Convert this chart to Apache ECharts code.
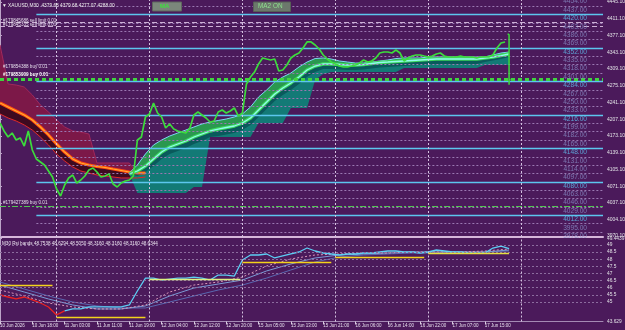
<!DOCTYPE html>
<html><head><meta charset="utf-8">
<script src="https://cdn.jsdelivr.net/npm/echarts@6/dist/echarts.min.js"></script>
<style>html,body{margin:0;padding:0;background:#4b1a5b;}#c{width:625px;height:330px;}</style>
</head><body><div id="c"></div>
<script>
// ---------- DATA ----------
const symbolName = 'XAUUSD,M30';
const lastBarOHLC = [4379.68, 4379.68, 4277.07, 4288.00]; // open high low close
const lastBarIndex = 252;
const priceStep = 2; // bars between close samples
const closes = [4199.5,4183.3,4171.1,4179.2,4165.0,4169.1,4152.8,4183.3,4144.7,4126.4,4120.3,4114.2,4102.1,4089.9,4065.5,4051.3,4073.7,4087.9,4093.9,4077.7,4083.8,4091.9,4104.1,4108.2,4100.0,4089.9,4091.9,4096.0,4075.7,4069.6,4077.7,4081.8,4083.8,4091.9,4165.0,4171.1,4211.7,4217.8,4240.1,4219.8,4211.7,4189.4,4197.5,4187.3,4183.3,4181.2,4179.2,4189.4,4215.8,4221.8,4215.8,4209.7,4201.5,4203.6,4221.8,4225.9,4219.8,4223.9,4230.0,4213.7,4219.8,4278.7,4292.9,4303.0,4319.3,4331.5,4329.4,4327.4,4329.4,4305.1,4307.1,4317.3,4331.5,4337.6,4341.6,4351.8,4364.0,4364.0,4357.9,4349.7,4337.6,4329.4,4323.3,4319.3,4315.2,4313.2,4313.2,4315.2,4317.3,4321.3,4327.4,4323.3,4325.4,4331.5,4341.6,4343.6,4343.6,4341.6,4347.7,4341.6,4325.4,4331.5,4335.5,4337.6,4337.6,4335.5,4333.5,4335.5,4339.6,4341.6,4335.5,4333.5,4333.5,4333.5,4335.5,4333.5,4333.5,4333.5,4331.5,4333.5,4333.5,4333.5,4337.6,4351.8,4362.0,4364.0];

const maStep = 4;
const bearStart = 0;
const bearMA       = [4240.1,4232.0,4223.9,4215.8,4205.6,4191.4,4175.2,4156.9,4140.6,4126.4,4118.3,4114.2,4111.2,4109.2,4106.1,4103.1,4100.0,4098.0,4098.0];
const bearBandLow  = [4217.8,4209.7,4203.6,4195.5,4185.3,4171.1,4154.9,4136.6,4122.4,4110.2,4102.1,4098.0,4094.0,4091.9,4089.9,4087.9,4087.9,4087.9,4089.9];
const bearCloudTop = [4357.9,4278.7,4276.6,4272.6,4256.4,4236.0,4221.8,4205.6,4191.4,4183.3,4181.2,4177.2,4118.3,4118.3,4118.3,4118.3,4118.3,4098.0,4098.0];

const bullStart = 64;
const bullUpper  = [4098.0,4114.3,4136.6,4154.9,4165.0,4173.1,4179.2,4185.3,4191.4,4197.5,4201.5,4204.6,4207.6,4211.7,4217.8,4232.0,4252.3,4266.5,4282.7,4292.9,4301.0,4313.2,4323.3,4330.4,4331.5,4329.4,4325.4,4323.3,4321.3,4321.3,4323.3,4325.4,4327.4,4330.4,4331.5,4331.5,4331.5,4333.5,4333.5,4333.5,4333.5,4333.5,4333.5,4333.5,4333.5,4337.6,4341.6,4343.6];
const bullMA     = [4096.0,4102.1,4112.2,4126.4,4140.6,4150.8,4156.9,4163.0,4171.1,4177.2,4183.3,4187.3,4190.4,4193.4,4199.5,4209.7,4225.9,4242.1,4258.4,4270.6,4280.7,4292.9,4307.1,4315.2,4319.3,4319.3,4318.3,4317.3,4317.3,4318.3,4320.3,4322.3,4323.3,4324.4,4325.4,4326.4,4327.4,4328.4,4329.4,4329.4,4329.4,4329.4,4329.4,4329.4,4331.5,4333.5,4336.5,4339.6];
const bullDark   = [4096.0,4091.9,4100.0,4112.2,4126.4,4136.6,4142.7,4148.8,4156.9,4163.0,4171.1,4173.1,4176.2,4179.2,4185.3,4195.5,4211.7,4227.9,4244.2,4256.4,4266.5,4278.7,4292.9,4303.0,4309.1,4309.1,4308.1,4307.1,4307.1,4308.1,4310.2,4312.2,4313.2,4314.2,4315.2,4316.2,4317.3,4318.3,4319.3,4319.3,4319.3,4319.3,4319.3,4319.3,4323.3,4326.4,4329.4,4333.5];
const bullBottom = [4096.0,4057.4,4057.4,4057.4,4057.4,4057.4,4057.4,4057.4,4069.6,4069.6,4171.1,4171.1,4171.1,4171.1,4171.1,4171.1,4199.5,4199.5,4199.5,4199.5,4230.0,4230.0,4230.0,4286.8,4299.0,4303.0,4303.0,4303.0,4303.0,4303.0,4303.0,4303.0,4303.0,4303.0,4311.2,4311.2,4311.2,4311.2,4311.2,4311.2,4311.2,4311.2,4311.2,4311.2,4317.3,4317.3,4317.3,4317.3];

const majorLevels = [4420,4352,4284,4216,4148,4080,4012];
const minorLevels = [4454,4437,4403,4386,4369,4335,4318,4301,4267,4250,4233,4199,4182,4165,4131,4114,4097,4063,4046,4029,3995,3978];
const levelStartBar = 18;

const orderIds    = ['#179845686','#179845335','#179854388','#179853909','#179427389'];
const orderTypes  = ['sell limit','sell limit','buy','buy','buy'];
const orderLots   = [0.01,0.01,0.01,0.01,0.01];
const orderPrices = [4404,4396,4288.5,4288,4031];

const priceTicks = [4445.1,4411.1,4377.1,4343.1,4309.1,4275.1,4241.1,4207.1,4173.1,4139.1,4105.1,4071.1,4037.1,4004.1,3970.1];

const timeBars   = [0,16,32,48,64,80,96,112,128,144,160,176,192,208,224,240];
const timeLabels = ['10 Jun 2026','10 Jun 18:00','11 Jun 03:00','11 Jun 11:00','11 Jun 19:00','12 Jun 04:00','12 Jun 12:00','12 Jun 20:00','15 Jun 05:00','15 Jun 13:00','15 Jun 21:00','16 Jun 06:00','16 Jun 14:00','16 Jun 22:00','17 Jun 07:00','17 Jun 15:00'];
const daySeparatorBars = [28,74,120,166,212,258];

// RSI sub-window
const rsiTitleValues = ['48.7538','48.6294','48.5050','48.3160','48.3160','48.3160','48.6344'];
const rsiStep = 4;
const rsiValues = [45.49,45.35,45.21,45.35,45.14,44.93,44.65,44.09,44.37,44.51,44.51,44.65,44.65,44.65,44.65,44.65,44.79,45.77,46.68,46.68,46.54,46.61,46.68,46.68,46.75,46.68,46.54,46.89,46.89,46.82,47.95,48.30,48.30,48.37,48.09,48.23,48.37,48.51,48.79,48.58,48.44,48.37,48.30,48.37,48.37,48.44,48.44,48.51,48.58,48.58,48.51,48.51,48.44,48.51,48.65,48.58,48.51,48.51,48.44,48.44,48.44,48.79,48.93,48.75];
const rsiBearishUntil = 8; // sample index where colour turns bullish
const rsiMaStep = 12;
const rsiFast   = [45.84,45.42,44.93,44.65,44.51,44.51,44.79,45.70,46.19,46.40,46.75,47.53,48.02,48.30,48.37,48.44,48.44,48.51,48.51,48.51,48.58,48.72];
const rsiMedium = [46.19,45.70,45.21,44.79,44.51,44.51,44.72,45.42,45.98,46.26,46.54,47.18,47.67,48.09,48.30,48.37,48.44,48.51,48.51,48.51,48.51,48.65];
const rsiSlow   = [46.40,45.91,45.42,45.00,44.72,44.58,44.58,45.00,45.42,45.84,46.19,46.68,47.25,47.81,48.16,48.30,48.37,48.44,48.44,48.51,48.51,48.58];
const bandLevels = [46.19,43.95,46.61,47.81,48.16,48.44];
const bandStarts = [0,28,74,120,166,212];
const bandEnds   = [26,72,119,164,210,252];
const rsiTicks    = [49.4439,49,48.5,48,47.5,47,46.5,46,45.5,45,43.629];
const rsiTickText = ['49.4439','49','48.5','48','47.5','47','46.5','46','45.5','45','43.629'];

// ---------- CHART ----------
const X_MAX = 298.5;
const P_MIN = 3968.1, P_MAX = 4449.2;
const R_MIN = 43.629, R_MAX = 49.4439;
const LEVEL_LABEL_BAR = 284.7;
const FONT = 'Liberation Sans, Arial, sans-serif';

const seq = (arr, start, step) => arr.map((v, i) => [start + i * step, v]);

function band(upper, lower, start, step, fill, z) {
  return {
    type: 'custom', xAxisIndex: 0, yAxisIndex: 0, z: z, silent: true,
    data: [[start, upper[0]]],
    renderItem: function (params, api) {
      const pts = [];
      for (let i = 0; i < upper.length; i++) pts.push(api.coord([start + i * step, upper[i]]));
      for (let i = lower.length - 1; i >= 0; i--) pts.push(api.coord([start + i * step, lower[i]]));
      return { type: 'polygon', shape: { points: pts }, style: { fill: fill } };
    }
  };
}
function line(data, color, width, z, opts) {
  return Object.assign({
    type: 'line', xAxisIndex: 0, yAxisIndex: 0, data: data, symbol: 'none', z: z, silent: true,
    lineStyle: { color: color, width: width }, animation: false
  }, opts || {});
}

const chart = echarts.init(document.getElementById('c'), null, { width: 625, height: 330 });

const levelLines = [];
minorLevels.forEach(l => levelLines.push([{ coord: [levelStartBar, l], lineStyle: { color: '#9a78b2', width: 1, type: [2, 2] } }, { coord: [X_MAX, l] }]));
majorLevels.forEach(l => levelLines.push([{ coord: [levelStartBar, l], lineStyle: { color: '#5cc6ee', width: 1.3, type: 'solid' } }, { coord: [X_MAX, l] }]));
const sepLines0 = daySeparatorBars.map(b => ({ xAxis: b }));

const orderLines = orderPrices.map((p, i) => {
  let ls;
  if (orderTypes[i] === 'sell limit') ls = { color: '#cdb0d6', width: 1, type: [5, 3] };
  else if (p > 4200) ls = { color: '#3fd43f', width: 2, type: [4, 3] };
  else ls = { color: '#52c652', width: 1, type: [6, 2, 2, 2] };
  return { yAxis: p, lineStyle: ls };
});

const option = {
  backgroundColor: '#4b1a5b',
  animation: false,
  textStyle: { fontFamily: FONT },
  grid: [
    { left: 0, width: 603, top: 0, height: 237, outerBoundsMode: 'none', containLabel: false },
    { left: 0, width: 603, top: 238.7, height: 82.8, outerBoundsMode: 'none', containLabel: false }
  ],
  xAxis: [
    { type: 'value', gridIndex: 0, min: 0, max: X_MAX,
      axisLine: { show: true, onZero: false, lineStyle: { color: '#d6b6da', width: 2 } },
      axisTick: { show: false }, axisLabel: { show: false }, splitLine: { show: false } },
    { type: 'value', gridIndex: 1, min: 0, max: X_MAX,
      axisLine: { show: true, onZero: false, lineStyle: { color: '#a48ab4', width: 1 } },
      axisTick: { show: true, customValues: timeBars, length: 3, lineStyle: { color: '#d8c8e0' } },
      axisLabel: { show: true, customValues: timeBars, align: 'left', margin: 1.5, fontSize: 4.5, color: '#e6deec',
        formatter: v => { const i = timeBars.indexOf(v); return i >= 0 ? timeLabels[i] : ''; } },
      splitLine: { show: false } }
  ],
  yAxis: [
    { type: 'value', gridIndex: 0, position: 'right', min: P_MIN, max: P_MAX,
      axisLine: { show: true, lineStyle: { color: '#bca4c8', width: 1 } },
      axisTick: { show: true, customValues: priceTicks, length: 2, lineStyle: { color: '#bca4c8' } },
      axisLabel: { show: true, customValues: priceTicks, margin: 4, fontSize: 5, color: '#e2e2e6', formatter: v => v.toFixed(2) },
      splitLine: { show: false } },
    { type: 'value', gridIndex: 1, position: 'right', min: R_MIN, max: R_MAX,
      axisLine: { show: true, lineStyle: { color: '#bca4c8', width: 1 } },
      axisTick: { show: true, customValues: rsiTicks, length: 2, lineStyle: { color: '#bca4c8' } },
      axisLabel: { show: true, customValues: rsiTicks, margin: 4, fontSize: 4.8, color: '#e2e2e6',
        formatter: v => { const i = rsiTicks.indexOf(v); return i >= 0 ? rsiTickText[i] : ''; } },
      splitLine: { show: false } }
  ],
  series: [
    // level lines and day separators (main)
    line([[0, P_MIN - 50]], 'rgba(0,0,0,0)', 0, 1, {
      markLine: { symbol: 'none', silent: true, animation: false, label: { show: false },
        data: levelLines.concat(sepLines0.map(s => Object.assign({ lineStyle: { color: '#d4c2e0', width: 1, type: [2, 2] } }, s))) }
    }),
    // order lines
    line([[0, P_MIN - 50]], 'rgba(0,0,0,0)', 0, 2, {
      markLine: { symbol: 'none', silent: true, animation: false, label: { show: false }, data: orderLines }
    }),
    // bearish cloud
    band(bearCloudTop, bearMA, bearStart, maStep, '#7c1848', 3),
    band(bearMA, bearBandLow, bearStart, maStep, '#3e0a20', 3),
    line(seq(bearCloudTop, bearStart, maStep), '#a0285c', 1, 4),
    line(seq(bearBandLow, bearStart, maStep), '#e02a2a', 1, 4),
    line(seq(bearMA, bearStart, maStep), '#ff4a10', 3.2, 4),
    line(seq(bearMA, bearStart, maStep), '#ffae30', 1.1, 4),
    // bullish cloud
    band(bullUpper, bullBottom, bullStart, maStep, '#137a76', 3),
    band(bullMA, bullDark, bullStart, maStep, '#0a5a5c', 3),
    band(bullUpper, bullMA, bullStart, maStep, '#2a9850', 3),
    line(seq(bullUpper, bullStart, maStep), '#80d2f2', 1, 4),
    line(seq(bullMA, bullStart, maStep), '#3cd85a', 3.4, 4),
    line(seq(bullMA, bullStart, maStep), '#90faee', 1.3, 4),
    // price
    line(seq(closes, 0, priceStep), '#3cdc3c', 1.7, 6),
    { type: 'custom', xAxisIndex: 0, yAxisIndex: 0, z: 6, silent: true,
      data: [[lastBarIndex].concat(lastBarOHLC)],
      renderItem: function (params, api) {
        const x = api.value(0);
        const o = api.coord([x, api.value(1)]), h = api.coord([x, api.value(2)]);
        const l = api.coord([x, api.value(3)]), c = api.coord([x, api.value(4)]);
        const st = { stroke: '#3cdc3c', lineWidth: 1.5 };
        return { type: 'group', children: [
          { type: 'line', shape: { x1: h[0], y1: h[1], x2: l[0], y2: l[1] }, style: st },
          { type: 'line', shape: { x1: o[0] - 1.5, y1: o[1], x2: o[0], y2: o[1] }, style: st },
          { type: 'line', shape: { x1: c[0], y1: c[1], x2: c[0] + 1.5, y2: c[1] }, style: st }
        ] };
      } },
    // level labels
    { type: 'scatter', xAxisIndex: 0, yAxisIndex: 0, z: 7, silent: true, clip: false,
      symbol: 'rect', symbolSize: 1, itemStyle: { color: 'rgba(0,0,0,0)' },
      data: minorLevels.map(l => [LEVEL_LABEL_BAR, l]),
      label: { show: true, position: 'inside', offset: [0, 4], fontSize: 6.6, color: '#8a90c8', formatter: p => p.value[1].toFixed(2) } },
    { type: 'scatter', xAxisIndex: 0, yAxisIndex: 0, z: 7, silent: true, clip: false,
      symbol: 'rect', symbolSize: 1, itemStyle: { color: 'rgba(0,0,0,0)' },
      data: majorLevels.map(l => [LEVEL_LABEL_BAR, l]),
      label: { show: true, position: 'inside', offset: [0, 4], fontSize: 6.6, color: '#62c0f0', formatter: p => p.value[1].toFixed(2) } },
    // bid price box
    line([[0, P_MIN - 50]], 'rgba(0,0,0,0)', 0, 8, {
      markLine: { symbol: 'none', silent: true, animation: false,
        data: [{ yAxis: lastBarOHLC[3], lineStyle: { opacity: 0 },
          label: { show: true, position: 'end', distance: 1, formatter: lastBarOHLC[3].toFixed(2),
            backgroundColor: '#ffffff', color: '#101010', fontSize: 5, padding: [1, 2], fontFamily: FONT } }] }
    }),

    // ---------- RSI window ----------
    { type: 'line', xAxisIndex: 1, yAxisIndex: 1, data: [[0, R_MIN - 5]], symbol: 'none', z: 1, silent: true,
      lineStyle: { opacity: 0 },
      markLine: { symbol: 'none', silent: true, animation: false, label: { show: false },
        data: rsiTicks.slice(1, rsiTicks.length - 1).map(v => ({ yAxis: v, lineStyle: { color: '#8c6c9e', width: 1, type: [2, 2] } }))
          .concat(daySeparatorBars.map(b => ({ xAxis: b, lineStyle: { color: '#d4c2e0', width: 1, type: [2, 2] } }))) } },
    { type: 'line', xAxisIndex: 1, yAxisIndex: 1, data: [[0, R_MIN - 5]], symbol: 'none', z: 2, silent: true,
      lineStyle: { opacity: 0 },
      markLine: { symbol: 'none', silent: true, animation: false, label: { show: false },
        data: bandLevels.map((v, i) => [
          { coord: [bandStarts[i], v], lineStyle: { color: i === 2 ? '#dcf080' : (i === 5 ? '#e4e040' : '#f4d21c'), width: 1.4, type: 'solid' } },
          { coord: [bandEnds[i], v] }]) } },
    { type: 'line', xAxisIndex: 1, yAxisIndex: 1, data: seq(rsiSlow, 0, rsiMaStep), symbol: 'none', z: 3, silent: true,
      lineStyle: { color: '#5a68b0', width: 1 } },
    { type: 'line', xAxisIndex: 1, yAxisIndex: 1, data: seq(rsiMedium, 0, rsiMaStep), symbol: 'none', z: 3, silent: true,
      lineStyle: { color: '#7a9ad4', width: 1 } },
    { type: 'line', xAxisIndex: 1, yAxisIndex: 1, data: seq(rsiFast, 0, rsiMaStep), symbol: 'none', z: 3, silent: true,
      lineStyle: { color: '#d896b8', width: 1, type: [2, 2] } },
    { type: 'line', xAxisIndex: 1, yAxisIndex: 1, data: seq(rsiValues, 0, rsiStep).slice(0, rsiBearishUntil + 1), symbol: 'none', z: 4, silent: true,
      lineStyle: { color: '#e82222', width: 1.3 } },
    { type: 'line', xAxisIndex: 1, yAxisIndex: 1, data: seq(rsiValues, 0, rsiStep).slice(rsiBearishUntil), symbol: 'none', z: 4, silent: true,
      lineStyle: { color: '#5ccef4', width: 1.3 } }
  ]
};
chart.setOption(option);

// ---------- texts ----------
const oh = lastBarOHLC.map(v => v.toFixed(2)).join(' ');
const labelShift = [-1.5, -1, -12, -4.5, -2.5];
const orderTexts = orderPrices.map((p, i) => {
  const y = chart.convertToPixel({ yAxisIndex: 0 }, p);
  return { type: 'text', left: 3, top: y + labelShift[i] - 3, z: 20, silent: true,
    style: { text: orderIds[i] + ' ' + orderTypes[i] + ' ' + orderLots[i].toFixed(2), fill: i === 3 ? '#ffffff' : '#e4dcea',
      font: (i === 3 ? 'bold ' : '') + '4.6px ' + FONT } };
});
chart.setOption({ graphic: [
  { type: 'text', left: 2, top: 3.5, z: 20, silent: true, style: { text: '\u25BC ' + symbolName + '  ' + oh, fill: '#f0f0f0', font: '4.8px ' + FONT } },
  { type: 'rect', left: 152, top: 1.5, z: 20, silent: true, shape: { width: 29, height: 9 }, style: { fill: '#7b877b', stroke: '#5e665e' } },
  { type: 'text', left: 160, top: 3, z: 21, silent: true, style: { text: 'MA', fill: '#3ee03e', font: 'bold 6px ' + FONT } },
  { type: 'rect', left: 253, top: 1.5, z: 20, silent: true, shape: { width: 37, height: 9.5 }, style: { fill: '#6c786c', stroke: '#566056' } },
  { type: 'text', left: 258, top: 3, z: 21, silent: true, style: { text: 'MA2 ON', fill: '#8ee08e', font: '6.4px ' + FONT } },
  { type: 'text', left: 2, top: 241, z: 20, silent: true, style: { text: 'M30 Rsi bands ' + rsiTitleValues.join(' '), fill: '#ece4f0', font: '4.6px ' + FONT } }
].concat(orderTexts) });
</script>
</body></html>
